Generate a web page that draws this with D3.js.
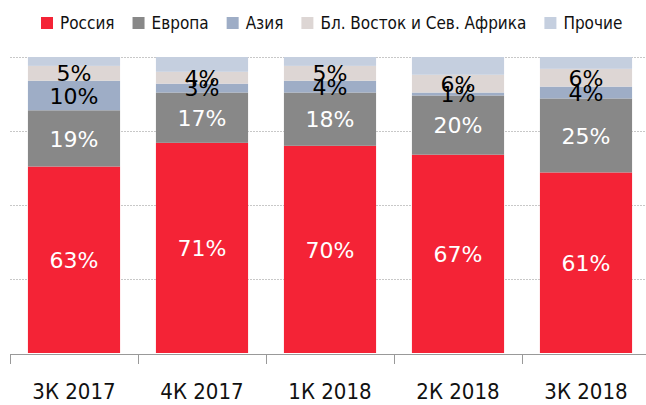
<!DOCTYPE html>
<html>
<head>
<meta charset="utf-8">
<script src="https://cdn.jsdelivr.net/npm/d3@7"></script>
<style>
  body { margin: 0; background: #fff; }
  svg { display: block; font-family: "DejaVu Sans Condensed", "DejaVu Sans", sans-serif; font-stretch: condensed; }
</style>
</head>
<body>
<div id="chart"></div>
<script>
const quarters = ['3К 2017', '4К 2017', '1К 2018', '2К 2018', '3К 2018'];
const seriesNames = ['Россия', 'Европа', 'Азия', 'Бл. Восток и Сев. Африка', 'Прочие'];
const russia = [63, 71, 70, 67, 61];
const europe = [19, 17, 18, 20, 25];
const asia = [10, 3, 4, 1, 4];
const mena = [5, 4, 5, 6, 6];
const other = [3, 5, 3, 6, 4];

const colors = ['#f42336', '#888888', '#9eadc6', '#ddd6d4', '#c5cfdf'];
const labelColors = ['#fff', '#fff', '#000', '#000', null];

const width = 646, height = 405;
const margin = {top: 57, right: -4, bottom: 52, left: 10};

const rows = quarters.map((q, i) => ({
  q,
  'Россия': russia[i],
  'Европа': europe[i],
  'Азия': asia[i],
  'Бл. Восток и Сев. Африка': mena[i],
  'Прочие': other[i]
}));

const stack = d3.stack().keys(seriesNames)(rows);

const svg = d3.select('#chart').append('svg')
  .attr('width', width)
  .attr('height', height);

const x = d3.scaleBand()
  .domain(quarters)
  .range([margin.left, width - margin.right])
  .paddingInner(0.28)
  .paddingOuter(0.14);

const y = d3.scaleLinear()
  .domain([0, 100])
  .range([height - margin.bottom, margin.top]);

// dotted gridlines
svg.append('g')
  .selectAll('line')
  .data([25, 50, 75, 100])
  .enter().append('line')
  .attr('x1', margin.left)
  .attr('x2', width)
  .attr('y1', d => Math.round(y(d)) + 0.5)
  .attr('y2', d => Math.round(y(d)) + 0.5)
  .style('stroke', '#c8c8c8')
  .style('stroke-dasharray', '2,1');

// bars
const layer = svg.append('g')
  .selectAll('g')
  .data(stack)
  .enter().append('g')
  .style('fill', (d, i) => colors[i]);

layer.selectAll('rect')
  .data(d => d)
  .enter().append('rect')
  .attr('x', d => x(d.data.q))
  .attr('width', x.bandwidth())
  .attr('y', d => y(d[1]))
  .attr('height', d => y(d[0]) - y(d[1]));

// value labels
stack.forEach((s, i) => {
  if (!labelColors[i]) return;
  svg.append('g')
    .selectAll('text')
    .data(s)
    .enter().append('text')
    .attr('x', d => x(d.data.q) + x.bandwidth() / 2)
    .attr('y', d => (y(d[0]) + y(d[1])) / 2)
    .attr('dy', '0.37em')
    .attr('text-anchor', 'middle')
    .style('font-family', '"DejaVu Sans", sans-serif')
    .style('font-stretch', 'normal')
    .style('font-size', '22px')
    .style('fill', labelColors[i])
    .text(d => (d[1] - d[0]) + '%');
});

// x axis
const xAxis = svg.append('g')
  .attr('transform', `translate(0,${height - margin.bottom + 1})`);

xAxis.append('line')
  .attr('x1', margin.left)
  .attr('x2', width)
  .attr('y1', 0.5).attr('y2', 0.5)
  .style('stroke', '#999');

const step = x.step();
xAxis.selectAll('line.tick')
  .data(d3.range(quarters.length + 1))
  .enter().append('line')
  .attr('class', 'tick')
  .attr('x1', i => margin.left + i * step + 0.5)
  .attr('x2', i => margin.left + i * step + 0.5)
  .attr('y1', 0)
  .attr('y2', 10)
  .style('stroke', '#999');

xAxis.selectAll('text')
  .data(quarters)
  .enter().append('text')
  .attr('x', d => x(d) + x.bandwidth() / 2)
  .attr('y', 45)
  .attr('text-anchor', 'middle')
  .style('font-size', '22px')
  .style('fill', '#111')
  .text(d => d);

// legend
const legend = svg.append('g').attr('transform', 'translate(41,17)');
let lx = 0;
seriesNames.forEach((name, i) => {
  const item = legend.append('g').attr('transform', `translate(${lx},0)`);
  item.append('rect')
    .attr('width', 12).attr('height', 12)
    .style('fill', colors[i]);
  const t = item.append('text')
    .attr('x', 19)
    .attr('y', 12)
    .style('font-size', '17px')
    .style('fill', '#111')
    .text(name);
  lx += 19 + t.node().getComputedTextLength() + 18;
});
</script>
</body>
</html>
